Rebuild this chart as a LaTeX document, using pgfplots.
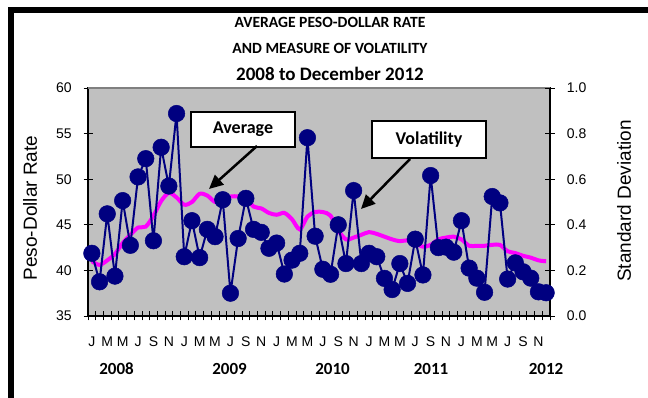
\documentclass[border=0pt]{standalone}
\usepackage{fontspec}
\setmainfont{Carlito}
\newfontfamily\arial{Liberation Sans}
\usepackage{pgfplots}
\usepackage{pgfplotstable}
\pgfplotsset{compat=1.18}
\usetikzlibrary{arrows.meta}
\definecolor{silver}{RGB}{192,192,192}
\definecolor{navyb}{RGB}{0,0,128}
\definecolor{magL}{RGB}{255,0,255}

\pgfplotstableread{
x avg vol
0.5 41.0 0.275
1.5 40.6 0.15
2.5 41.1 0.448
3.5 41.8 0.175
4.5 43.0 0.506
5.5 43.9 0.31
6.5 44.7 0.61
7.5 44.8 0.69
8.5 46.0 0.33
9.5 47.6 0.74
10.5 48.5 0.57
11.5 48.0 0.888
12.5 47.2 0.26
13.5 47.5 0.418
14.5 48.4 0.256
15.5 48.2 0.38
16.5 47.5 0.348
17.5 47.6 0.51
18.5 48.1 0.10
19.5 48.1 0.34
20.5 48.0 0.516
21.5 47.0 0.38
22.5 46.8 0.367
23.5 46.3 0.297
24.5 46.1 0.32
25.5 46.3 0.184
26.5 45.6 0.245
27.5 44.5 0.275
28.5 45.9 0.782
29.5 46.4 0.35
30.5 46.4 0.205
31.5 46.0 0.183
32.5 44.4 0.40
33.5 43.4 0.23
34.5 43.6 0.55
35.5 43.9 0.23
36.5 44.2 0.275
37.5 44.0 0.26
38.5 43.7 0.165
39.5 43.4 0.116
40.5 43.2 0.23
41.5 43.3 0.143
42.5 43.0 0.337
43.5 42.6 0.18
44.5 42.8 0.616
45.5 43.4 0.30
46.5 43.6 0.302
47.5 43.7 0.28
48.5 43.4 0.418
49.5 42.7 0.21
50.5 42.7 0.166
51.5 42.7 0.104
52.5 42.8 0.524
53.5 42.8 0.496
54.5 42.1 0.162
55.5 41.9 0.233
56.5 41.6 0.194
57.5 41.4 0.166
58.5 41.1 0.106
59.5 41.0 0.102
}\data

\begin{document}
\begin{tikzpicture}[x=1pt,y=1pt]
\useasboundingbox (0,0) rectangle (648,398);
\fill[white] (0,0) rectangle (648,398);
\begin{scope}
\clip (0,0) rectangle (648,398);
\draw[line width=6pt] (11.2,-10) -- (11.2,388) -- (670,388);
\end{scope}

% titles
\node[font=\bfseries\fontsize{15.6}{17}\selectfont] at (330,376) {AVERAGE PESO-DOLLAR RATE};
\node[font=\bfseries\fontsize{15.6}{17}\selectfont] at (330,350) {AND MEASURE OF VOLATILITY};
\node[font=\bfseries\fontsize{19}{21}\selectfont] at (330,324) {2008 to December 2012};

\begin{axis}[
  at={(88pt,82pt)}, anchor=south west,
  scale only axis, width=462pt, height=228pt,
  xmin=0, xmax=60, ymin=35, ymax=60,
  axis background/.style={fill=silver},
  axis line style={black, line width=1.2pt},
  xtick pos=bottom, ytick pos=left,
  ytick={35,40,45,50,55,60},
  xtick={0,1,...,60},
  xticklabels={,,},
  tick style={black, line width=0.8pt},
  tick align=center, major tick length=9pt,
  /pgf/number format/assume math mode=true,
  ticklabel style={font=\arial\fontsize{14}{16}\selectfont},
  yticklabel style={anchor=east, xshift=-8.3pt},
  clip=true,
]
\addplot[magL, line width=4pt, smooth, tension=0.5] table[x=x, y=avg] {\data};
\draw[gray, line width=1.4pt] (rel axis cs:0,1) -- (rel axis cs:1,1);
\end{axis}

\begin{axis}[
  at={(88pt,82pt)}, anchor=south west,
  scale only axis, width=462pt, height=228pt,
  xmin=0, xmax=60, ymin=0, ymax=1,
  axis y line*=right, axis x line*=bottom,
  axis line style={black, line width=1.2pt, -},
  xtick={0.5,2.5,...,58.5},
  xticklabels={J,M,M,J,S,N,J,M,M,J,S,N,J,M,M,J,S,N,J,M,M,J,S,N,J,M,M,J,S,N},
  xtick style={draw=none},
  xticklabel style={font=\arial\fontsize{14}{16}\selectfont, anchor=base, yshift=-26pt},
  ytick={0,0.2,0.4,0.6,0.8,1.0},
  tick align=center, major tick length=10pt,
  ytick style={black, line width=0.8pt},
  /pgf/number format/assume math mode=true,
  yticklabel style={font=\arial\fontsize{14}{16}\selectfont, anchor=west, xshift=8.3pt,
    /pgf/number format/.cd, fixed, fixed zerofill, precision=1},
]
\addplot[navyb, line width=2pt, mark=*, mark size=8.3pt, mark options={fill=navyb, draw=navyb, line width=0.5pt}] table[x=x, y=vol] {\data};
\end{axis}

% axis titles
\node[font=\arial\fontsize{19}{21}\selectfont, rotate=90] at (30,190) {Peso-Dollar Rate};
\node[font=\arial\fontsize{19}{21}\selectfont, rotate=90] at (624,197) {Standard Deviation};

% year labels
\foreach \xx/\yy in {116.6/2008, 229.6/2009, 332.5/2010, 431/2011, 546/2012}
  \node[font=\bfseries\fontsize{17}{19}\selectfont] at (\xx,29) {\yy};

% annotations
\draw[fill=white, line width=1.4pt] (191,251) rectangle (295,286);
\node[font=\bfseries\fontsize{18}{20}\selectfont] at (243,268.5) {Average};
\draw[line width=2.5pt, -{Triangle[length=14pt,width=13pt]}] (257,252) -- (209,209);

\draw[fill=white, line width=1.4pt] (372,240) rectangle (486,277);
\node[font=\bfseries\fontsize{18}{20}\selectfont] at (429,258.5) {Volatility};
\draw[line width=2.5pt, -{Triangle[length=14pt,width=13pt]}] (410,239) -- (361,189);
\end{tikzpicture}
\end{document}
